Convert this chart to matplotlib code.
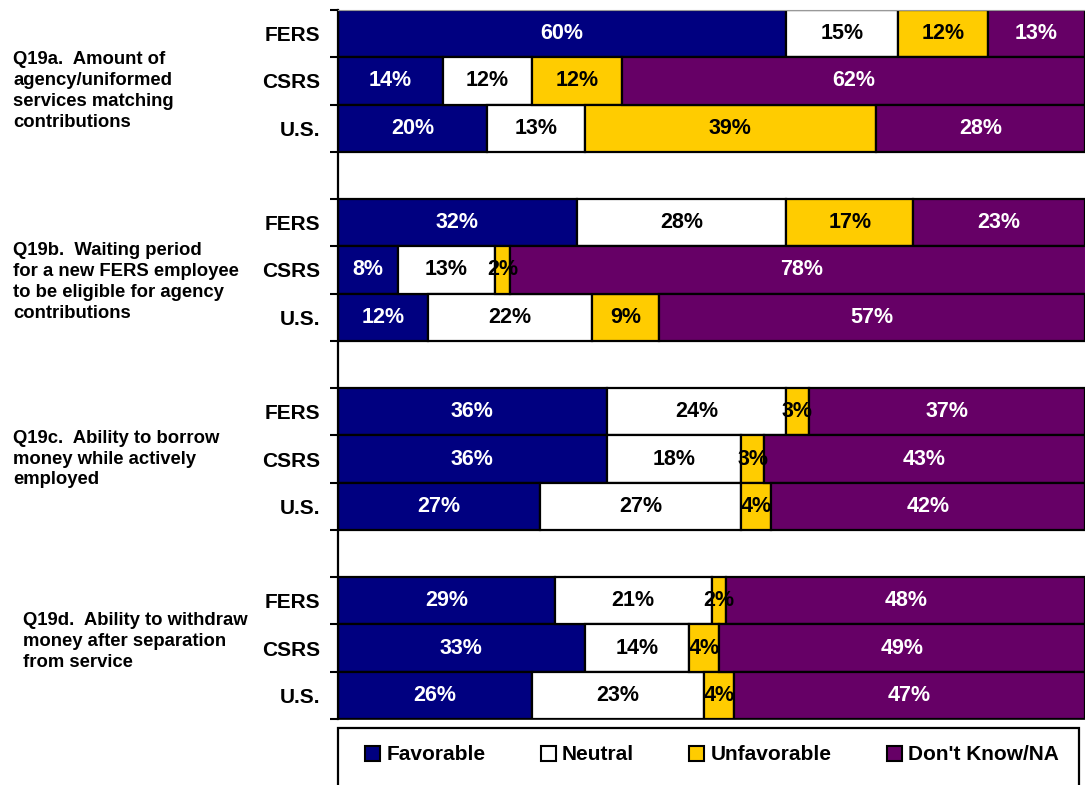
#!/usr/bin/env python3
"""
Stacked 100% horizontal bars: TSP opinion items (Q19a-d) by retirement
system, with the survey question text to the left of each group.
"""

import matplotlib
matplotlib.use("Agg")
import matplotlib.pyplot as plt
from matplotlib.patches import Patch, Rectangle
from matplotlib.transforms import blended_transform_factory

plt.rcParams["font.family"] = ["Liberation Sans", "DejaVu Sans"]
plt.rcParams["font.weight"] = "bold"

# ---- data -------------------------------------------------------------
QUESTIONS = [
    "Q19a.  Amount of\nagency/uniformed\nservices matching\ncontributions",
    "Q19b.  Waiting period\nfor a new FERS employee\nto be eligible for agency\ncontributions",
    "Q19c.  Ability to borrow\nmoney while actively\nemployed",
    "Q19d.  Ability to withdraw\nmoney after separation\nfrom service",
]
GROUPS = ["FERS", "CSRS", "U.S."]
CATEGORIES = ["Favorable", "Neutral", "Unfavorable", "Don't Know/NA"]

# one row per (question, group), in display order
favorable   = [60, 14, 20,  32,  8, 12,  36, 36, 27,  29, 33, 26]
neutral     = [15, 12, 13,  28, 13, 22,  24, 18, 27,  21, 14, 23]
unfavorable = [12, 12, 39,  17,  2,  9,   3,  3,  4,   2,  4,  4]
dont_know   = [13, 62, 28,  23, 78, 57,  37, 43, 42,  48, 49, 47]

COLORS = ["#000080", "#FFFFFF", "#FFCC00", "#660066"]
TEXT_COLORS = ["white", "black", "black", "white"]

# question label placement (row units, x in px from left edge)
Q_YPOS = [1.22, 5.25, 9.0, 12.86]
Q_XPX = [13, 13, 13, 23]

W, H = 1085, 785
fig = plt.figure(figsize=(W / 100, H / 100), dpi=100)
ax = fig.add_axes([338 / W, 1 - 719 / H, 1 - 338 / W, (719 - 10) / H])

series = [favorable, neutral, unfavorable, dont_know]
rows = []
for q in range(len(QUESTIONS)):
    for g in range(len(GROUPS)):
        rows.append(q * 4 + g)

lefts = [0] * len(rows)
for vals, col, tcol in zip(series, COLORS, TEXT_COLORS):
    ax.barh(rows, vals, left=lefts, height=1.0, color=col,
            edgecolor="black", linewidth=1.6, zorder=2)
    for r, l, v in zip(rows, lefts, vals):
        ax.text(l + v / 2, r, f"{v}%", ha="center", va="center",
                color=tcol, fontsize=15.5, fontweight="bold", zorder=3)
    lefts = [l + v for l, v in zip(lefts, vals)]

ax.set_xlim(0, 100)
ax.set_ylim(14.5, -0.5)
ax.set_xticks([])

ax.set_yticks(rows)
ax.set_yticklabels(GROUPS * len(QUESTIONS), fontsize=15, fontweight="bold")
ax.tick_params(axis="y", which="major", length=0, pad=13)
ax.set_yticks([i - 0.5 for i in range(16)], minor=True)
ax.tick_params(axis="y", which="minor", length=6, width=1.5,
               direction="out", color="black")

ax.spines["left"].set_linewidth(1.6)
ax.spines["right"].set_visible(False)
ax.spines["top"].set_color("#999999")
ax.spines["top"].set_linewidth(0.8)
ax.spines["bottom"].set_linewidth(1.2)

trans = blended_transform_factory(fig.transFigure, ax.transData)
for txt, y, xpx in zip(QUESTIONS, Q_YPOS, Q_XPX):
    ax.text(xpx / W, y, txt, transform=trans, ha="left", va="center",
            fontsize=13.3, fontweight="bold", linespacing=1.3)

# legend box at the bottom
fig.patches.append(Rectangle((338 / W, -0.02), (1079 - 338) / W,
                             (785 - 728) / H + 0.02,
                             transform=fig.transFigure, fill=False,
                             edgecolor="black", linewidth=1.6))
handles = [Patch(facecolor=c, edgecolor="black", linewidth=1.5) for c in COLORS]
fig.legend(handles, CATEGORIES, ncol=4, loc="center",
           bbox_to_anchor=(712 / W, 1 - 755 / H), frameon=False,
           handlelength=0.72, handleheight=0.72,
           handletextpad=0.3, columnspacing=2.65,
           prop={"weight": "bold", "size": 15})

fig.savefig("out.png", dpi=100)
plt.close(fig)
